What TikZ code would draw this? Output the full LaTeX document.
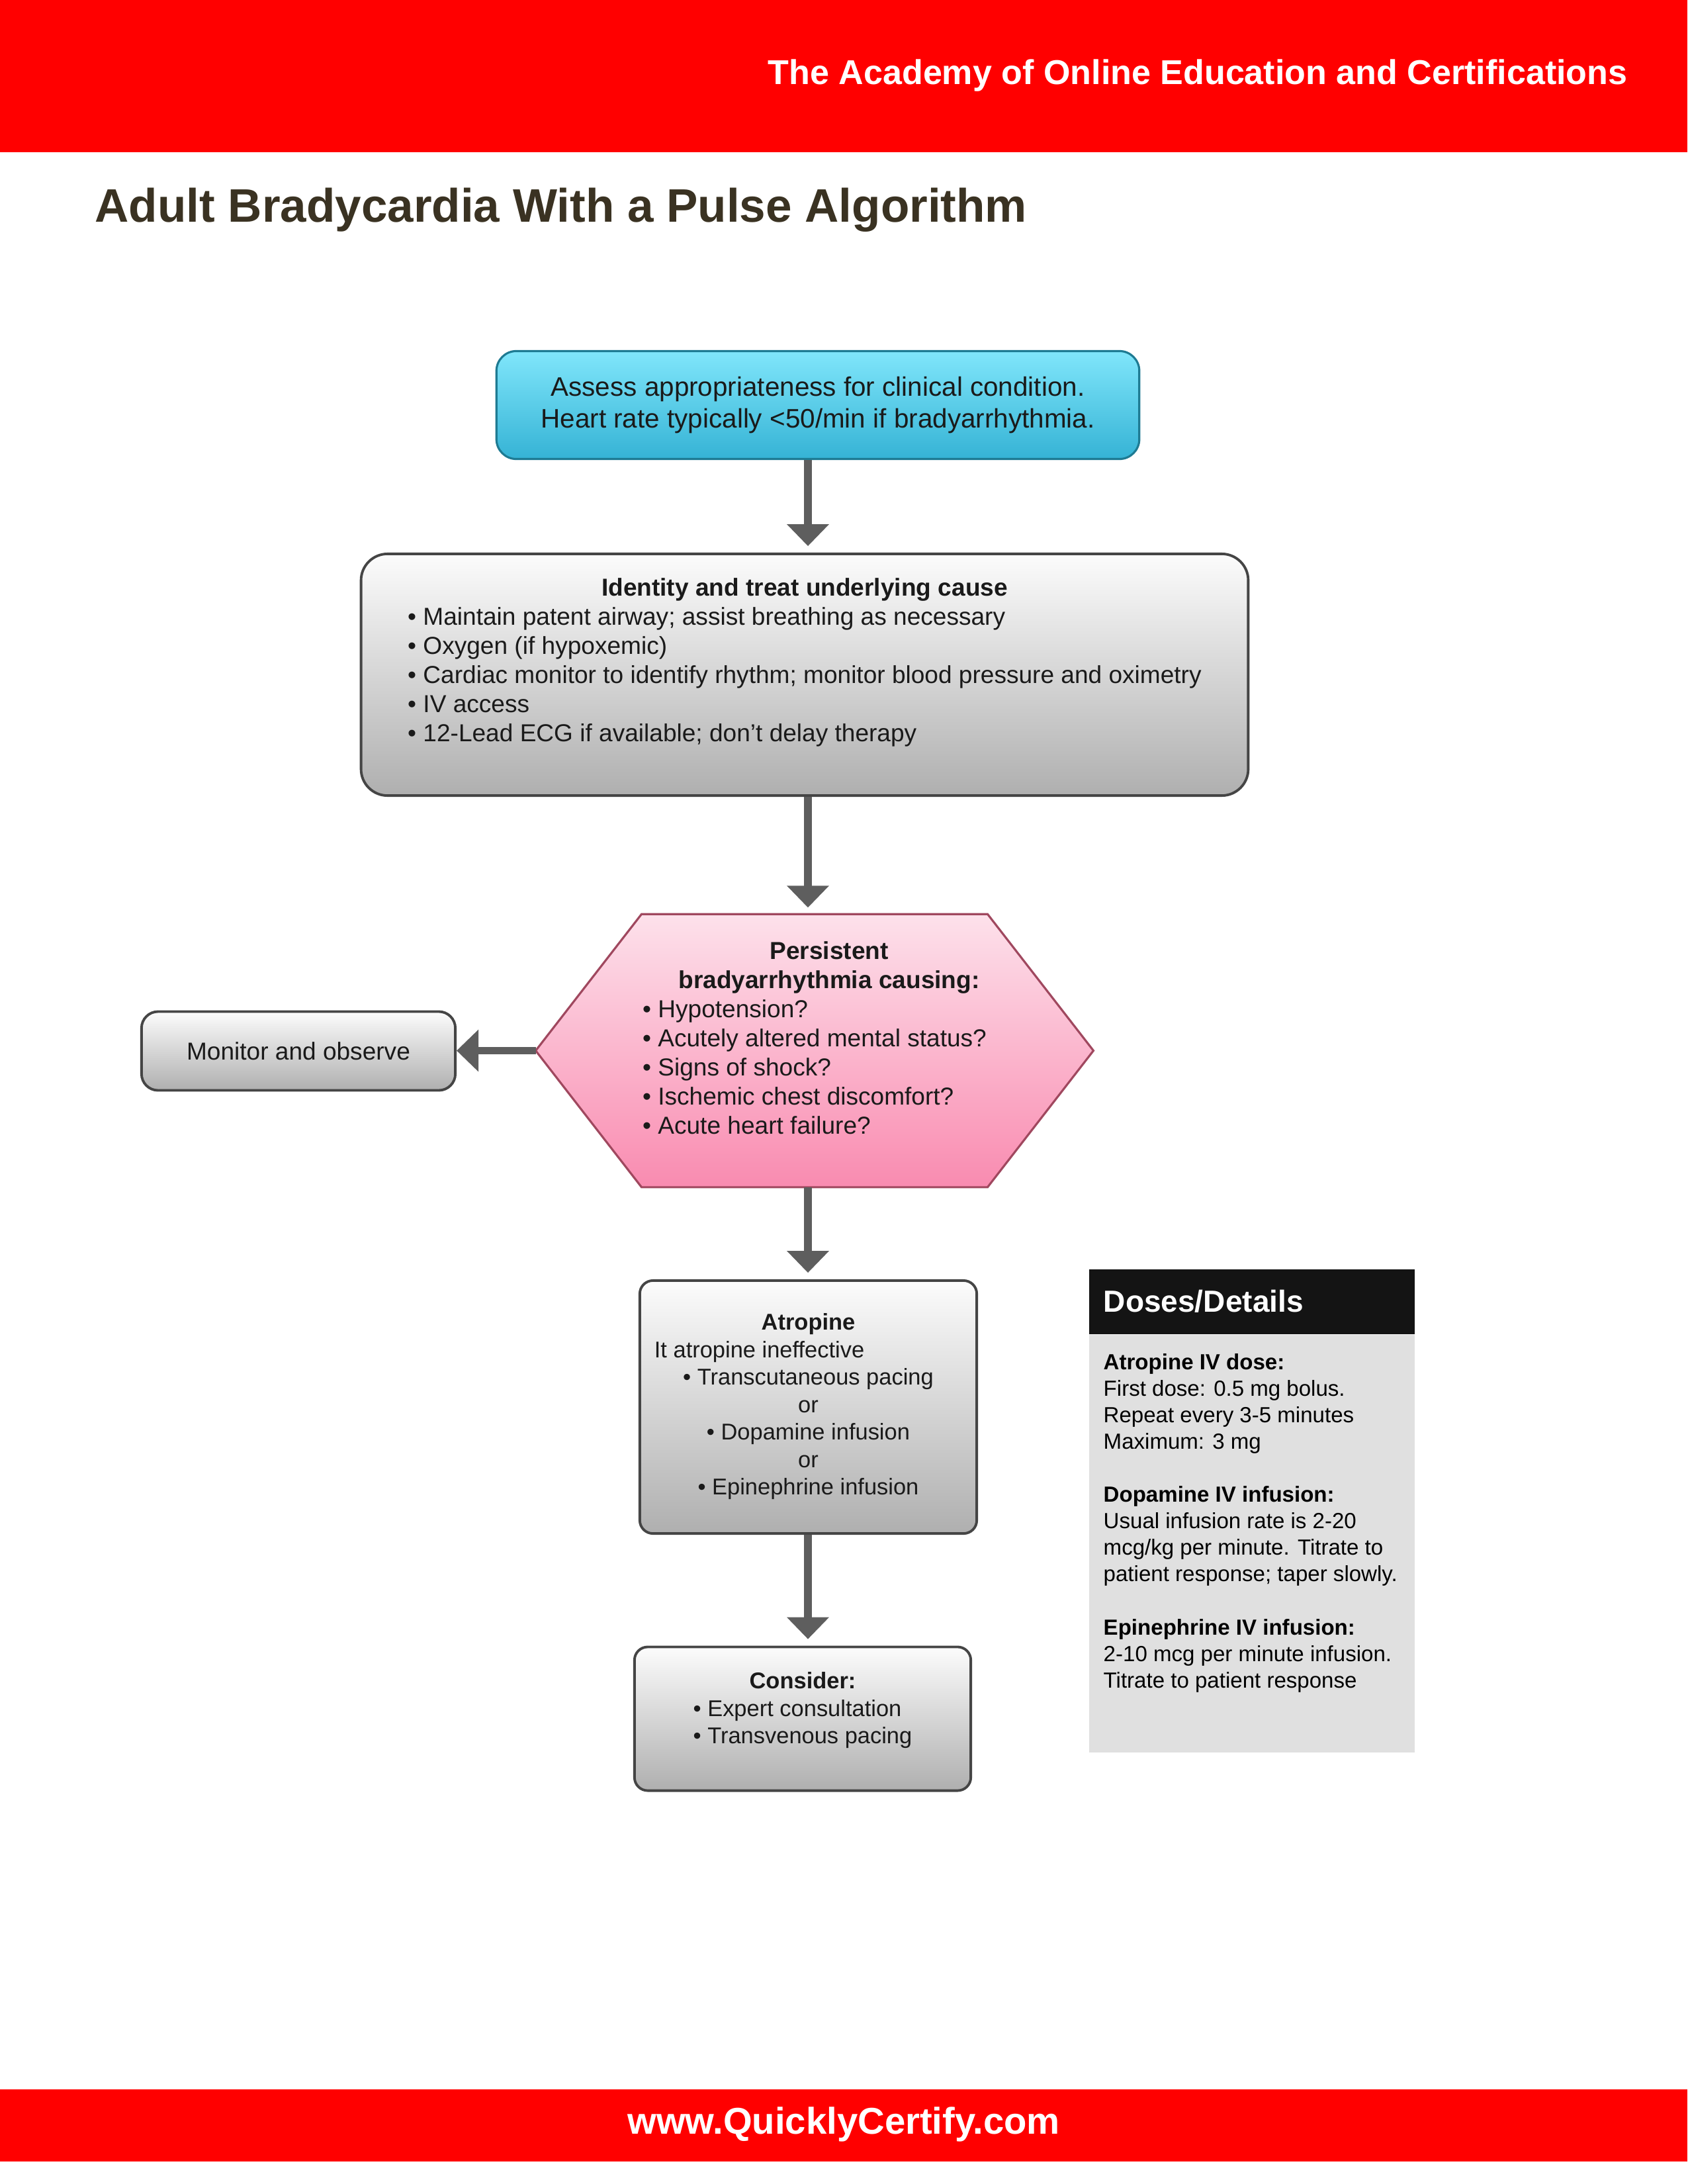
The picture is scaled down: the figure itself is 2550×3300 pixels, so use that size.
\documentclass[tikz,border=0pt]{standalone}
\usepackage{fontspec}
\setmainfont{Liberation Sans}
\usetikzlibrary{arrows.meta, positioning, calc, backgrounds}

\definecolor{bannerred}{HTML}{FF0000}
\definecolor{titleink}{HTML}{3A3222}
\definecolor{assesstop}{HTML}{80E6FB}
\definecolor{assessbot}{HTML}{35B3D5}
\definecolor{assessline}{HTML}{1E7B93}
\definecolor{graytop}{HTML}{FCFCFC}
\definecolor{graybot}{HTML}{AFAFAF}
\definecolor{grayline}{HTML}{454545}
\definecolor{pinktop}{HTML}{FDE1EB}
\definecolor{pinkbot}{HTML}{F98BB0}
\definecolor{pinkline}{HTML}{A0485F}
\definecolor{flowgray}{HTML}{5E5E5E}
\definecolor{panelgray}{HTML}{E0E0E0}
\definecolor{panelblack}{HTML}{141414}
\definecolor{bodyink}{HTML}{1A1A1A}

\begin{document}
\begin{tikzpicture}[
		x=0.01cm, y=-0.01cm,
		flow/.style={line width=3.4pt, draw=flowgray, -{Triangle[length=9.4pt, width=17.6pt]}, shorten >=2.8pt},
		graybox/.style={draw=grayline, line width=1.1pt, top color=graytop, bottom color=graybot, text=bodyink, inner sep=0pt},
		bodytext/.style={font=\fontsize{10.54pt}{12.5pt}\selectfont},
		smalltext/.style={font=\fontsize{9.8pt}{11.8pt}\selectfont},
	]
	% page and banners
	\useasboundingbox (0,0) rectangle (2550,3300);
	\fill[bannerred] (0,0) rectangle (2550,230);
	\fill[bannerred] (0,3157) rectangle (2550,3266);
	\node[anchor=east, inner sep=0pt, text=white, font=\fontsize{14.8pt}{18pt}\selectfont\bfseries] (academy) at (2460,114) {The Academy of Online Education and Certifications};
	\node[anchor=west, inner sep=0pt, text=titleink, font=\fontsize{20.2pt}{24pt}\selectfont\bfseries] (heading) at (143,317) {Adult Bradycardia With a Pulse Algorithm};
	\node[text=white, font=\fontsize{16pt}{19pt}\selectfont\bfseries] (website) at (1275,3210) {www.QuicklyCertify.com};

	% x position of the vertical arrows
	\coordinate (spine) at (1221,0);

	\node[draw=assessline, line width=0.9pt, rounded corners=0.3cm, top color=assesstop, bottom color=assessbot,
		minimum width=9.71cm, minimum height=1.63cm, align=center, text=bodyink,
		font=\fontsize{11.5pt}{13.66pt}\selectfont] (assess) at (1236,612)
		{Assess appropriateness for clinical condition.\\Heart rate typically <50/min if bradyarrhythmia.};

	\node[graybox, rounded corners=0.4cm, minimum width=13.40cm, minimum height=3.65cm, bodytext] (cause) at (1216,1019.5) {%
		\begin{tabular}{@{}l@{}}
			\multicolumn{1}{@{}c@{}}{\bfseries Identity and treat underlying cause}\\
			\textbullet\ Maintain patent airway; assist breathing as necessary\\
			\textbullet\ Oxygen (if hypoxemic)\\
			\textbullet\ Cardiac monitor to identify rhythm; monitor blood pressure and oximetry\\
			\textbullet\ IV access\\
			\textbullet\ 12-Lead ECG if available; don't delay therapy\\[0.35cm]
		\end{tabular}};

	\node[minimum width=8.41cm, minimum height=4.11cm, inner sep=0pt, text=bodyink, bodytext] (persist) at (1231,1587.5) {%
		\begin{tabular}{@{}l@{}}
			\multicolumn{1}{@{}c@{}}{\hspace*{0.44cm}\bfseries Persistent}\\
			\multicolumn{1}{@{}c@{}}{\hspace*{0.44cm}\bfseries bradyarrhythmia causing:}\\
			\textbullet\ Hypotension?\\
			\textbullet\ Acutely altered mental status?\\
			\textbullet\ Signs of shock?\\
			\textbullet\ Ischemic chest discomfort?\\
			\textbullet\ Acute heart failure?\\[0.30cm]
		\end{tabular}};
	\begin{pgfonlayer}{background}
		\path[draw=pinkline, line width=0.9pt, top color=pinktop, bottom color=pinkbot]
			($(persist.north west)+(160,0)$) -- ($(persist.north east)+(-160,0)$) -- (persist.east)
			-- ($(persist.south east)+(-160,0)$) -- ($(persist.south west)+(160,0)$) -- (persist.west) -- cycle;
	\end{pgfonlayer}

	\node[graybox, rounded corners=0.25cm, minimum width=4.74cm, minimum height=1.19cm, bodytext] (monitor) at (451,1588) {Monitor and observe};

	\node[graybox, rounded corners=0.2cm, minimum width=5.09cm, minimum height=3.82cm, smalltext] (atro) at (1221.5,2126) {%
		\begin{tabular}{@{}c@{}}
			\bfseries Atropine\\
			\makebox[4.65cm][l]{It atropine ineffective}\\
			\textbullet\ Transcutaneous pacing\\
			or\\
			\textbullet\ Dopamine infusion\\
			or\\
			\textbullet\ Epinephrine infusion
		\end{tabular}};

	\node[graybox, rounded corners=0.2cm, minimum width=5.08cm, minimum height=2.17cm, smalltext] (consider) at (1213,2597) {%
		\begin{tabular}{@{}l@{}}
			\multicolumn{1}{@{}c@{}}{\bfseries Consider:}\\
			\textbullet\ Expert consultation\\
			\textbullet\ Transvenous pacing\\[0.24cm]
		\end{tabular}};

	% connectors
	\draw[flow] (assess.south -| spine) -- (cause.north -| spine);
	\draw[flow] (cause.south -| spine) -- (persist.north -| spine);
	\draw[flow] (persist.south -| spine) -- (atro.north -| spine);
	\draw[flow] (atro.south -| spine) -- (consider.north -| spine);
	\draw[flow, shorten >=0pt] (persist.west) -- (persist.west -| monitor.east);

	% doses panel
	\node[fill=panelblack, text=white, anchor=north west, minimum height=0.98cm, inner xsep=0.22cm, inner ysep=0pt,
		text width=4.48cm, align=left, font=\fontsize{13.1pt}{15pt}\selectfont\bfseries] (doseHead) at (1645,1917) {Doses/Details};
	\node[fill=panelgray, anchor=north west, inner sep=0pt] (doseBody) at (doseHead.south west) {%
		\parbox[c][6.30cm][t]{4.92cm}{\raggedright\leftskip=0.22cm
			\fontsize{9.4pt}{11.4pt}\selectfont
			\vspace*{0.28cm}
			\textbf{Atropine IV dose:}\\
			First dose: 0.5 mg bolus.\\
			Repeat every 3-5 minutes\\
			Maximum: 3 mg\\[\baselineskip]
			\textbf{Dopamine IV infusion:}\\
			Usual infusion rate is 2-20\\
			mcg/kg per minute. Titrate to\\
			patient response; taper slowly.\\[\baselineskip]
			\textbf{Epinephrine IV infusion:}\\
			2-10 mcg per minute infusion.\\
			Titrate to patient response}};
\end{tikzpicture}
\end{document}
